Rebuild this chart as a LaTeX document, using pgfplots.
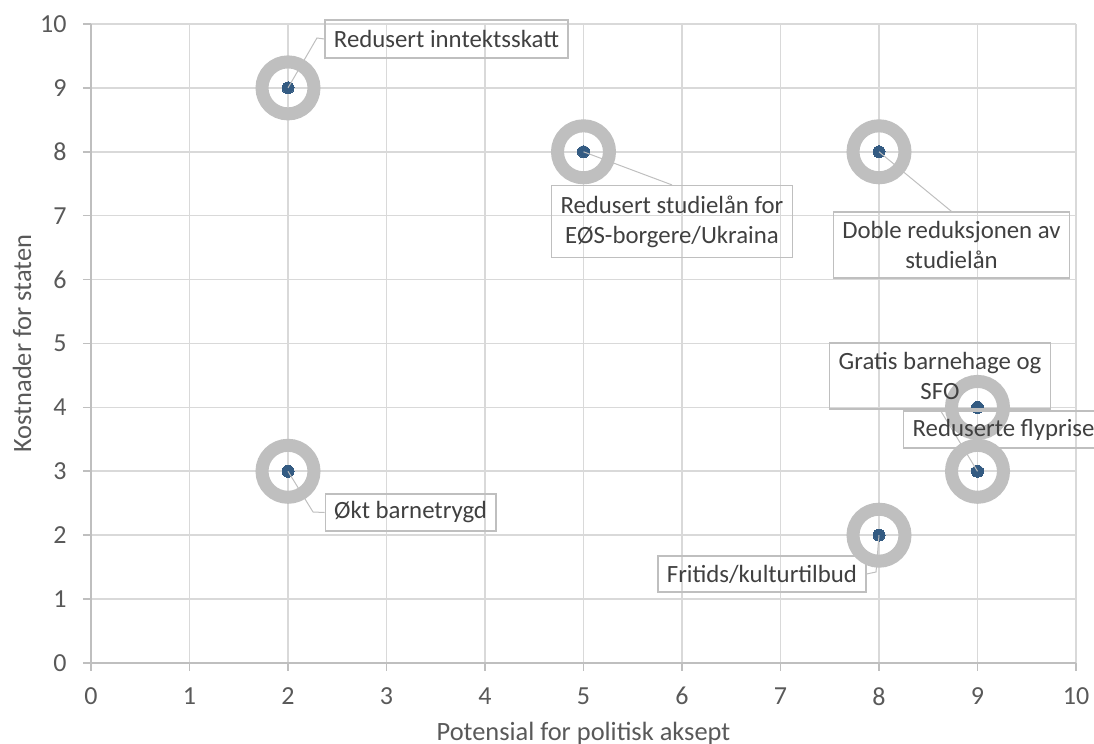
\documentclass[border=0pt]{standalone}
\usepackage{pgfplots}
\pgfplotsset{compat=1.18}
\usepackage{fontspec}
\setmainfont{Carlito}

\definecolor{gridgray}{HTML}{D9D9D9}
\definecolor{axisgray}{HTML}{BFBFBF}
\definecolor{ringgray}{HTML}{BFBFBF}
\definecolor{dotblue}{HTML}{345B82}
\definecolor{ticktext}{HTML}{595959}
\definecolor{lbltext}{HTML}{404040}

\begin{document}
\begin{tikzpicture}[
  lbl/.style={draw=axisgray, line width=0.6pt, text=lbltext, font=\fontsize{12.4}{15}\selectfont,
              align=center, inner xsep=4.5pt, inner ysep=0pt},
  leader/.style={draw=axisgray, line width=0.5pt}
]
\clip (-45.5pt,-40.5pt) rectangle (501.5pt,331.5pt);
\begin{axis}[
    at={(0,0)}, anchor=south west,
    scale only axis,
    width=492.5pt, height=319.5pt,
    xmin=0, xmax=10, ymin=0, ymax=10,
    xtick={0,...,10}, ytick={0,...,10},
    grid=major,
    major grid style={draw=gridgray, line width=0.8pt},
    axis lines*=left,
    axis line style={draw=axisgray, line width=0.8pt},
    tick align=outside,
    major tick length=4pt,
    tick style={draw=axisgray, line width=0.8pt},
    ticklabel style={font=\fontsize{13}{15}\selectfont, text=ticktext, inner sep=0pt},
    /pgf/number format/assume math mode=true,
    xticklabel shift=8pt,
    yticklabel shift=8pt,
    xlabel={Potensial for politisk aksept},
    ylabel={Kostnader for staten},
    label style={font=\fontsize{13.2}{15}\selectfont, text=ticktext},
    xlabel style={at={(axis description cs:0.5,-0.1095)}, anchor=center},
    ylabel style={at={(axis description cs:-0.070,0.5)}, anchor=center},
    clip=false,
]

% ringer rundt punktene
\addplot[only marks, mark=o, mark size=13pt,
  mark options={draw=ringgray, line width=6.5pt}]
  coordinates {(2,9) (5,8) (8,8) (9,4) (9,3) (2,3) (8,2)};

% selve punktene
\addplot[only marks, mark=*, mark size=3pt,
  mark options={draw=dotblue, fill=dotblue, line width=0pt}]
  coordinates {(2,9) (5,8) (8,8) (9,4) (9,3) (2,3) (8,2)};

% ankerpunkter for etikettene
\coordinate (p1) at (axis cs:2,9);
\coordinate (p2) at (axis cs:5,8);
\coordinate (p3) at (axis cs:8,8);
\coordinate (p5) at (axis cs:9,3);
\coordinate (p6) at (axis cs:2,3);
\coordinate (p7) at (axis cs:8,2);
\coordinate (l1) at (axis cs:3.609,9.765);
\coordinate (k1) at (axis cs:2.294,9.781);
\coordinate (l2) at (axis cs:5.898,6.909);
\coordinate (l3) at (axis cs:8.736,6.541);
\coordinate (l4) at (axis cs:8.619,4.491);
\coordinate (l5) at (axis cs:8.244,3.654);
\coordinate (l6) at (axis cs:3.244,2.355);
\coordinate (k6) at (axis cs:2.254,2.363);
\coordinate (l7) at (axis cs:6.812,1.393);
\coordinate (k7) at (axis cs:7.97,1.424);
\end{axis}

% etiketter over ringene
\node[lbl, minimum height=19pt] (a) at (l1) {Redusert inntektsskatt};
\draw[leader] (p1) -- (k1) -- (a.west);

\node[lbl, minimum height=36pt] (b) at (l2) {Redusert studielån for\\EØS-borgere/Ukraina};
\draw[leader] (p2) -- (b.north);

\node[lbl, minimum height=33pt] (c) at (l3) {Doble reduksjonen av\\studielån};
\draw[leader] (p3) -- (c.north);

\node[lbl, minimum height=33pt] (d) at (l4) {Gratis barnehage og\\SFO};
\draw[leader] (p5) -- (d.south);

\node[lbl, minimum height=18.5pt, anchor=west] (e) at (l5) {Reduserte flypriser};

\node[lbl, minimum height=18.5pt] (f) at (l6) {Økt barnetrygd};
\draw[leader] (p6) -- (k6) -- (f.west);

\node[lbl, minimum height=18pt] (g) at (l7) {Fritids/kulturtilbud};
\draw[leader] (p7) -- (k7) -- (g.east);
\end{tikzpicture}
\end{document}
